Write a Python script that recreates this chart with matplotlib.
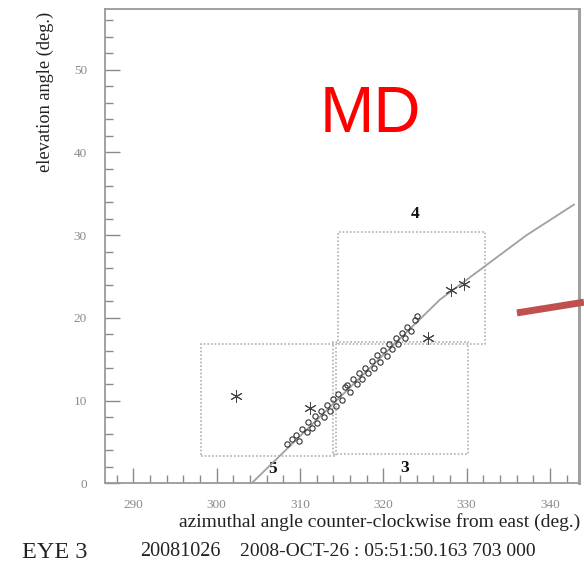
import matplotlib
matplotlib.use("Agg")
import matplotlib.pyplot as plt
from matplotlib.ticker import MultipleLocator
from matplotlib.patches import Rectangle

# ---------------- data ----------------
fit_az = [304.2, 315.0, 326.8, 332.0, 337.2, 342.9]
fit_el = [0.0, 10.6, 22.2, 26.1, 30.0, 33.7]

circ_az = [308.4, 309.0, 309.5, 309.9, 310.3, 310.8, 311.0, 311.4, 311.8, 312.1,
           312.5, 312.9, 313.2, 313.6, 314.0, 314.3, 314.6, 315.0, 315.4, 315.7,
           316.0, 316.4, 316.8, 317.1, 317.5, 317.8, 318.2, 318.6, 318.9, 319.3,
           319.6, 320.0, 320.4, 320.7, 321.1, 321.5, 321.8, 322.2, 322.6, 322.9,
           323.3, 323.8, 324.1]
circ_el = [4.7, 5.3, 5.9, 5.1, 6.6, 6.2, 7.4, 6.7, 8.1, 7.3,
           8.7, 8.0, 9.5, 8.8, 10.2, 9.4, 10.8, 10.1, 11.6, 11.9,
           11.1, 12.6, 12.0, 13.3, 12.6, 14.0, 13.3, 14.8, 14.0, 15.5,
           14.7, 16.1, 15.4, 16.9, 16.2, 17.6, 16.9, 18.2, 17.6, 18.9,
           18.4, 19.7, 20.2]

star_az = [302.3, 311.2, 325.4, 328.1, 329.7]
star_el = [10.6, 9.1, 17.6, 23.4, 24.1]

mirror_ids = ["5", "3", "4"]
mirror_az0 = [298.1, 314.0, 314.6]
mirror_az1 = [314.3, 330.2, 332.2]
mirror_el0 = [3.3, 3.6, 16.9]
mirror_el1 = [16.9, 17.1, 30.4]
label_az = [306.7, 322.6, 323.8]
label_el = [1.7, 1.8, 32.6]

pointer_az = [336.05, 344.1]
pointer_el = [20.6, 21.9]

x_ticks = [290, 300, 310, 320, 330, 340]
y_ticks = [0, 10, 20, 30, 40, 50]

# ---------------- figure ----------------
fig = plt.figure(figsize=(5.84, 5.72), dpi=100)
ax = fig.add_axes([105/584, 1-483.3/572, (579-105)/584, (483.3-9)/572])
ax.set_xlim(286.6, 343.5)
ax.set_ylim(0, 57.35)

serif = ["Liberation Serif", "DejaVu Serif"]
grey = "#8a8a8a"

for side in ["left", "bottom", "top"]:
    ax.spines[side].set_color("#9a9a9a")
    ax.spines[side].set_linewidth(1.3)
ax.spines["right"].set_color("#a0a0a0")
ax.spines["right"].set_linewidth(2.2)

ax.set_xticks(x_ticks)
ax.set_yticks(y_ticks)
ax.xaxis.set_minor_locator(MultipleLocator(2))
ax.yaxis.set_minor_locator(MultipleLocator(2))
ax.tick_params(which="major", direction="in", length=10.8, width=1.0, color=grey,
               labelcolor=grey, labelsize=9.5, top=False, right=False)
ax.tick_params(which="minor", direction="in", length=5.8, width=1.0, color=grey,
               top=False, right=False)
ax.tick_params(axis="x", which="major", pad=11)
ax.tick_params(axis="y", which="major", pad=13)
for lab in ax.get_xticklabels() + ax.get_yticklabels():
    lab.set_family(serif)

# mirror boxes
for a0, a1, e0, e1 in zip(mirror_az0, mirror_az1, mirror_el0, mirror_el1):
    ax.add_patch(Rectangle((a0, e0), a1 - a0, e1 - e0, fill=False,
                           edgecolor="#b0b0b0", linestyle=(0, (1, 1.2)), linewidth=1.2))
for t, a, e in zip(mirror_ids, label_az, label_el):
    ax.text(a, e, t, ha="center", va="center", fontsize=12.5, family=serif,
            color="#111111", fontweight="bold")

# fitted track
ax.plot(fit_az, fit_el, color="#a0a0a0", linewidth=1.3, zorder=3)

# tube hits
ax.plot(circ_az, circ_el, linestyle="none", marker="o", markersize=3.8,
        markerfacecolor="none", markeredgecolor="#333333", markeredgewidth=0.8, zorder=4)
ax.plot(star_az, star_el, linestyle="none", marker=(6, 2, 0), markersize=9,
        markeredgecolor="#444444", markeredgewidth=0.7, zorder=4)

# annotations
ax.text(370/8.33 + 300 - 216.7/8.33, 44.5, "MD", color="red", fontsize=47,
        family=["Liberation Sans", "DejaVu Sans"], ha="center", va="center")
ax.plot(pointer_az, pointer_el, color="#c0504d", linewidth=5, solid_capstyle="butt",
        clip_on=False, zorder=5)

# labels
fig.text(580/584, 1-522/572, "azimuthal angle counter-clockwise from east (deg.)",
         ha="right", va="center", fontsize=14, family=serif, color="#222222")
fig.text(45/584, 1-12/572, "elevation angle (deg.)", rotation=90,
         ha="center", va="top", fontsize=13.2, family=serif, color="#222222")

fig.text(22/584, 1-552/572, "EYE 3", ha="left", va="center", fontsize=17.5,
         family=serif, color="#222222")
fig.text(140/584, 1-552/572, "20081026", ha="left", va="center", fontsize=14.5,
         family=serif, color="#222222")
fig.text(240/584, 1-552/572, "2008-OCT-26 : 05:51:50.163 703 000", ha="left",
         va="center", fontsize=14, family=serif, color="#222222")

fig.savefig("out.png", dpi=100)
